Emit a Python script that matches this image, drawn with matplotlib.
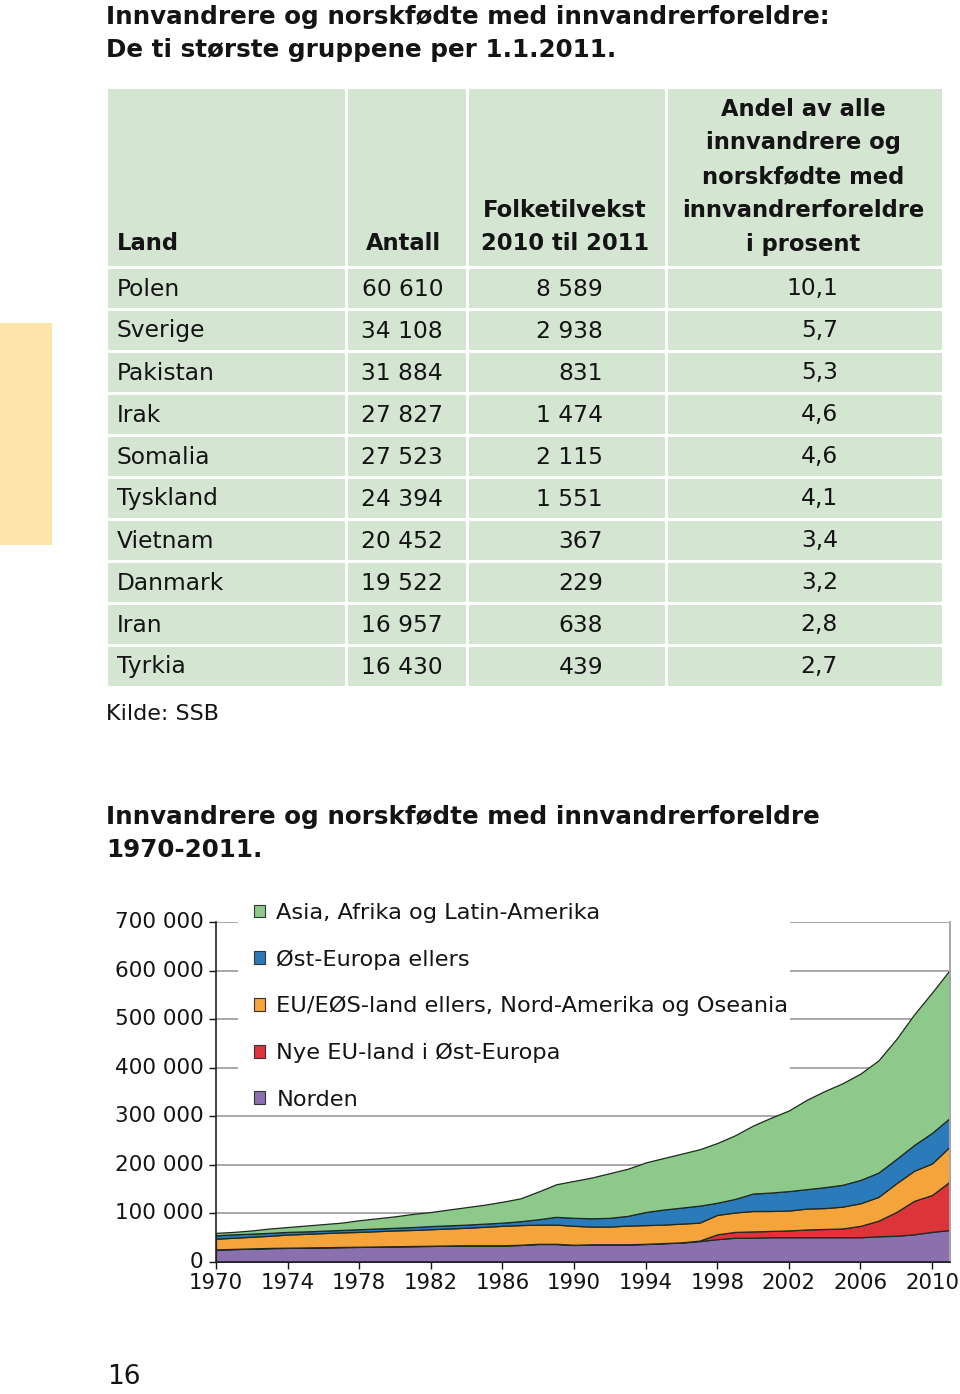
#!/usr/bin/env python3

import matplotlib

matplotlib.use("Agg")
import matplotlib.pyplot as plt
from matplotlib.patches import Patch, Rectangle

# ---- table data -------------------------------------------------------------
TABLE_TITLE = ["Innvandrere og norskfødte med innvandrerforeldre:",
               "De ti største gruppene per 1.1.2011."]
LAND = ["Polen", "Sverige", "Pakistan", "Irak", "Somalia",
        "Tyskland", "Vietnam", "Danmark", "Iran", "Tyrkia"]
ANTALL = ["60 610", "34 108", "31 884", "27 827", "27 523",
          "24 394", "20 452", "19 522", "16 957", "16 430"]
VEKST = ["8 589", "2 938", "831", "1 474", "2 115",
         "1 551", "367", "229", "638", "439"]
ANDEL = ["10,1", "5,7", "5,3", "4,6", "4,6", "4,1", "3,4", "3,2", "2,8", "2,7"]
HEADER_LAND = ["Land"]
HEADER_ANTALL = ["Antall"]
HEADER_VEKST = ["Folketilvekst", "2010 til 2011"]
HEADER_ANDEL = ["Andel av alle", "innvandrere og", "norskfødte med",
                "innvandrerforeldre", "i prosent"]
SOURCE = "Kilde: SSB"

# ---- chart data (thousands of persons, 1.1. each year) -----------------------
CHART_TITLE = ["Innvandrere og norskfødte med innvandrerforeldre", "1970-2011."]
YEARS = list(range(1970, 2012))
NORDEN = [25.5, 26.5, 27.5, 28.5, 29, 29.5, 30, 30.5, 31, 31.5,
          32, 32.5, 33, 33.5, 34, 34, 34, 35, 37, 37,
          35, 36, 36, 36, 37, 38.5, 40, 43, 47, 50,
          50, 51, 51, 51, 51, 51, 51, 53, 54, 57,
          62, 66]
NYE_EU = [0.5, 0.5, 0.5, 0.5, 0.5, 0.5, 0.5, 0.5, 0.5, 0.5,
          0.5, 0.5, 0.5, 0.5, 0.5, 0.5, 0.5, 0.5, 0.5, 0.5,
          0.5, 0.5, 0.5, 0.5, 0.5, 0.5, 0.5, 1, 10, 12,
          13, 13, 14, 16, 17, 18, 23.5, 32, 49, 69,
          76, 100]
EU_EOS = [22, 23, 24, 25, 27, 28, 29, 30, 30.5, 31.5,
          32.5, 33, 34, 35, 36, 38, 40, 40.5, 39.5, 39.5,
          39, 36.5, 36.5, 38.5, 38.5, 38, 38.5, 37, 40, 40,
          42, 41, 41, 43, 43, 45, 46.5, 49, 59, 62,
          65, 72]
OST_EUROPA = [7, 7, 6.5, 6, 5.5, 5, 5, 5, 5.5, 5.5,
              5.5, 6, 6.5, 6.5, 6.5, 6.5, 6.5, 8, 11, 16,
              16.5, 17, 18, 20, 27, 31, 33, 35, 25, 28,
              36, 38, 40, 40, 43, 45, 48, 50, 50, 53,
              63, 59]
ASIA_AFRIKA = [5, 5, 6.5, 9, 10, 12, 13.5, 15, 18.5, 21,
               23.5, 27, 29, 32.5, 36, 39, 43, 47, 57, 67,
               76, 84, 92, 97, 102, 106, 111, 116, 123, 131,
               140, 154, 166, 184, 198, 209, 219, 231, 247, 269,
               289, 305]
SERIES_LABELS = ["Norden", "Nye EU-land i Øst-Europa",
                 "EU/EØS-land ellers, Nord-Amerika og Oseania",
                 "Øst-Europa ellers", "Asia, Afrika og Latin-Amerika"]
SERIES_COLORS = ["#8a70ae", "#dd3439", "#f5a33b", "#2b7bbb", "#8cc98a"]
Y_TICKS = [0, 100000, 200000, 300000, 400000, 500000, 600000, 700000]
X_TICKS = list(range(1970, 2011, 4))
PAGE_NUMBER = "16"

W, H = 960, 1394
CELL_BG = "#d4e6d2"
TEXT = "#141414"
plt.rcParams["font.family"] = ["DejaVu Sans"]


def fx(px):
    return px / W


def fy(py):
    return 1 - py / H


fig = plt.figure(figsize=(W / 100, H / 100), dpi=100)

# page layer in pixel coordinates
page = fig.add_axes([0, 0, 1, 1])
page.set_xlim(0, W)
page.set_ylim(H, 0)
page.axis("off")

# yellow side tab
page.add_patch(Rectangle((0, 323), 52, 222, facecolor="#fde4a8", edgecolor="none"))

# table title
for i, line in enumerate(TABLE_TITLE):
    page.text(106, 17 + 33 * i, line, fontsize=17.7, fontweight="bold",
              va="center", ha="left", color=TEXT)

# table cells
col_edges = [106, 346, 467, 666, 943]
row_edges = [87, 267] + [267 + 42 * (i + 1) for i in range(len(LAND))]
gap = 1.5
for r in range(len(row_edges) - 1):
    for c in range(len(col_edges) - 1):
        x0, x1 = col_edges[c], col_edges[c + 1]
        y0, y1 = row_edges[r], row_edges[r + 1]
        page.add_patch(Rectangle((x0 + gap, y0 + gap), x1 - x0 - 2 * gap,
                                 y1 - y0 - 2 * gap, facecolor=CELL_BG,
                                 edgecolor="none"))

# header (bottom aligned lines)
head_kw = dict(fontsize=16.3, fontweight="bold", va="center", color=TEXT)
pitch = 33.7
for lines, x, ha in [(HEADER_LAND, 117, "left"), (HEADER_ANTALL, 441, "right"),
                     (HEADER_VEKST, 565, "center"), (HEADER_ANDEL, 803, "center")]:
    for k, line in enumerate(reversed(lines)):
        page.text(x, 244 - k * pitch, line, ha=ha, **head_kw)

body_kw = dict(fontsize=16.8, va="center", color=TEXT)
for i in range(len(LAND)):
    y = 267 + 42 * i + 22
    page.text(117, y, LAND[i], ha="left", **body_kw)
    page.text(443, y, ANTALL[i], ha="right", **body_kw)
    page.text(603, y, VEKST[i], ha="right", **body_kw)
    page.text(838, y, ANDEL[i], ha="right", **body_kw)

page.text(106, 714, SOURCE, fontsize=16, va="center", ha="left", color=TEXT)

# chart title
for i, line in enumerate(CHART_TITLE):
    page.text(106, 817 + 33 * i, line, fontsize=17.7, fontweight="bold",
              va="center", ha="left", color=TEXT)

page.text(107, 1377, PAGE_NUMBER, fontsize=19, va="center", ha="left", color=TEXT)

# ---- stacked area chart ------------------------------------------------------
ax = fig.add_axes([fx(216), fy(1262), fx(950 - 216), (1262 - 922) / H])
series = [NORDEN, NYE_EU, EU_EOS, OST_EUROPA, ASIA_AFRIKA]
values = [[v * 1000 for v in s] for s in series]
ax.stackplot(YEARS, *values, colors=SERIES_COLORS, edgecolor="#1f2a1f",
             linewidth=0.9, zorder=1)

ax.set_xlim(1970, 2011)
ax.set_ylim(0, 700000)
ax.set_yticks(Y_TICKS)
ax.set_yticklabels([f"{v:,}".replace(",", " ") for v in Y_TICKS])
ax.set_xticks(X_TICKS)
ax.set_xticklabels([str(y) for y in X_TICKS])
ax.tick_params(axis="y", labelsize=15.5, length=5, width=1, pad=4, colors=TEXT)
ax.tick_params(axis="x", labelsize=15.3, length=5, width=1, pad=3, colors=TEXT)
for lab in ax.get_yticklabels():
    lab.set_verticalalignment("center")

ax.set_axisbelow(True)
ax.yaxis.grid(True, color="#a8a8a8", linewidth=1.4)
ax.spines["left"].set_color("#222222")
ax.spines["left"].set_linewidth(1.2)
ax.spines["bottom"].set_color("#222222")
ax.spines["bottom"].set_linewidth(1.2)
ax.spines["right"].set_color("#a8a8a8")
ax.spines["right"].set_linewidth(1.4)
ax.spines["top"].set_visible(False)

# white panel behind the legend hides the gridlines there
ax.add_patch(Rectangle((fx(238), fy(1110)), fx(790 - 238), (1110 - 885) / H,
                       transform=fig.transFigure, facecolor="white",
                       edgecolor="none", zorder=0.8, clip_on=False))

handles = [Patch(facecolor=c, edgecolor="#333333", linewidth=0.8, label=l)
           for c, l in zip(SERIES_COLORS, SERIES_LABELS)]
ax.legend(handles=handles[::-1], loc="upper left",
          bbox_to_anchor=(fx(254), fy(903)), bbox_transform=fig.transFigure,
          frameon=False, fontsize=16.2, borderpad=0, borderaxespad=0,
          handlelength=0.5, handleheight=0.5, handletextpad=0.5,
          labelspacing=1.17, labelcolor=TEXT)

fig.savefig("out.png", dpi=100)
